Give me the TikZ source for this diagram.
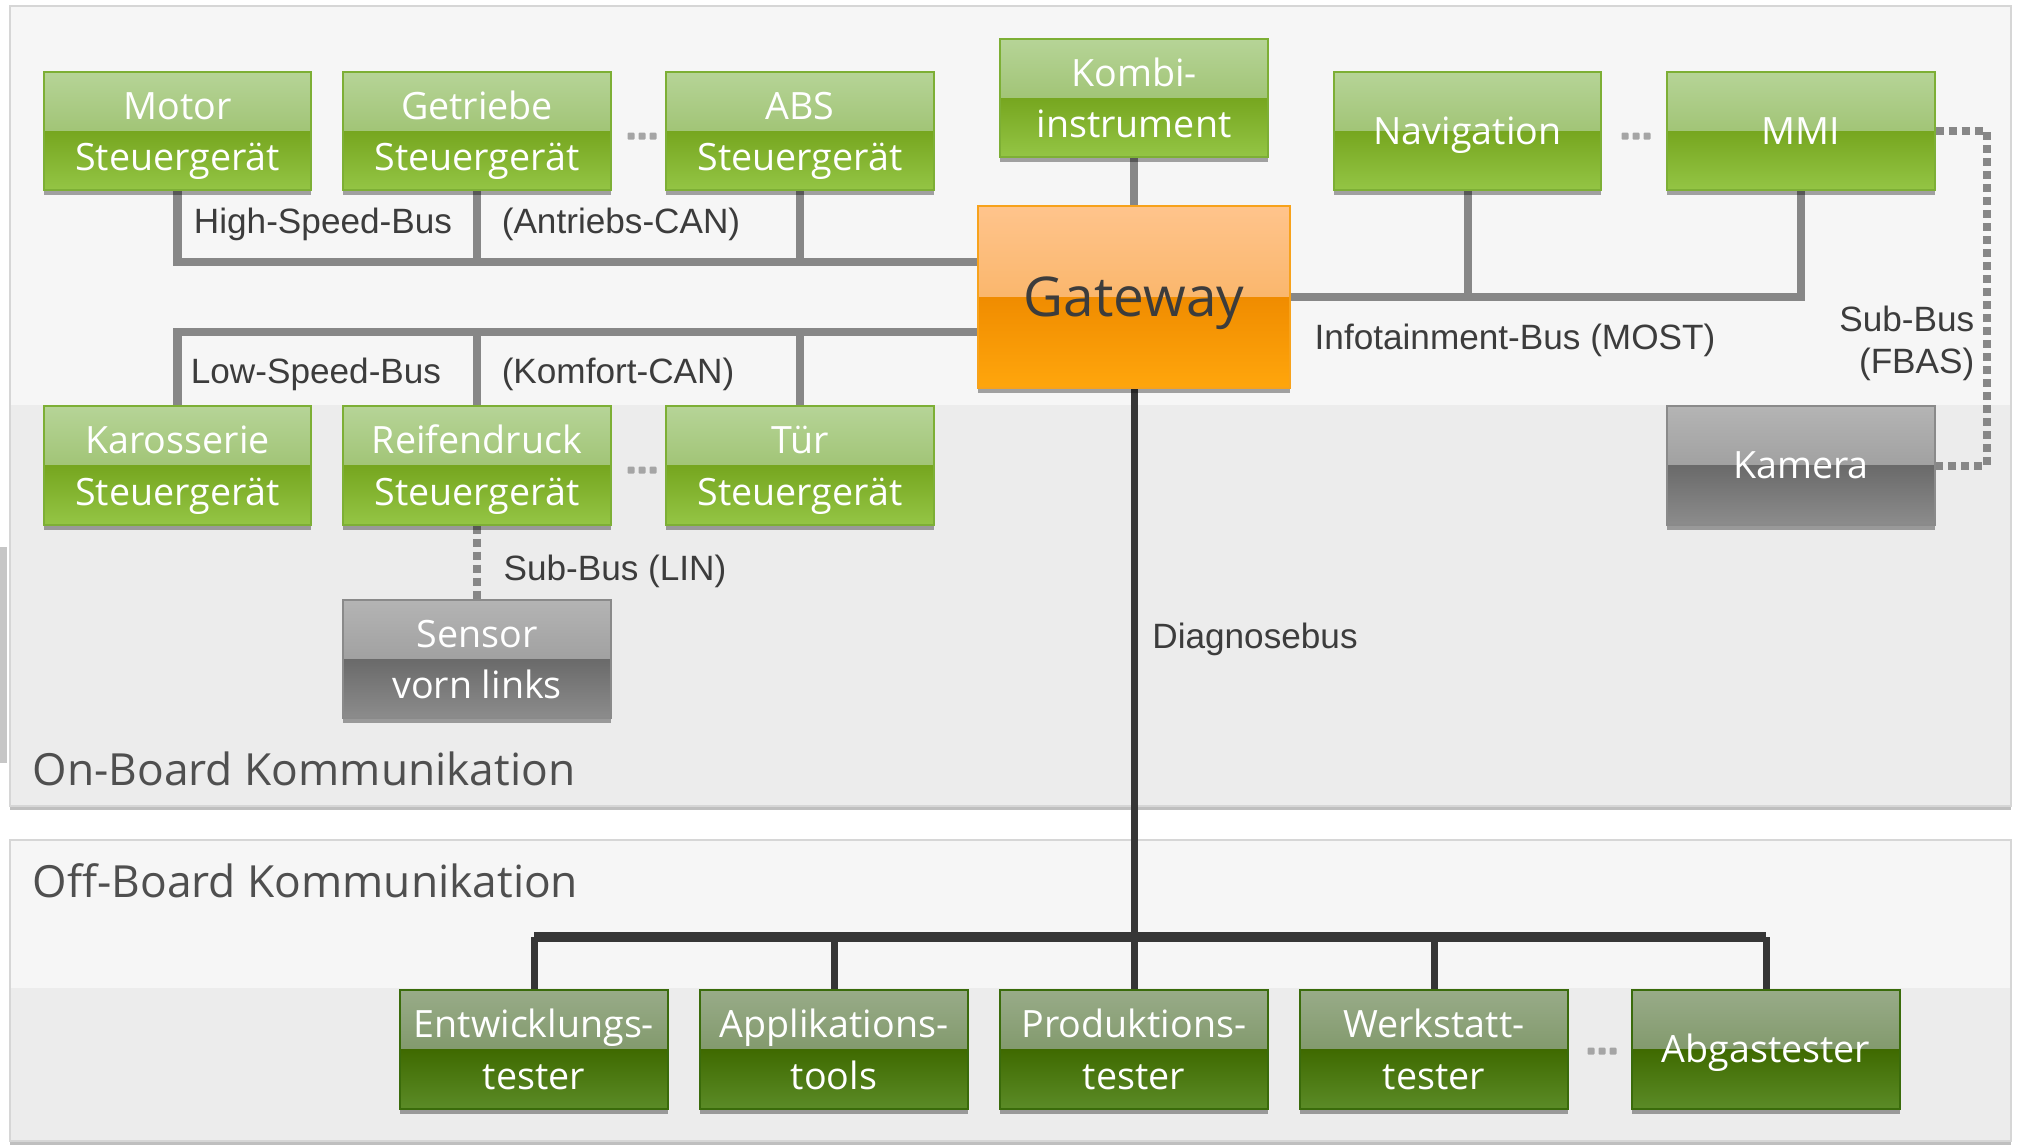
\documentclass[tikz,border=0pt]{standalone}
\usepackage{fontspec}
\setmainfont{Open Sans}
\newfontfamily\busfont{Liberation Sans}
\usetikzlibrary{shadows,calc}
\pgfdeclarelayer{panel}
\pgfdeclarelayer{wires}
\pgfsetlayers{panel,wires,main}

% box fills: top-light, top-dark, bottom-dark, bottom-light, border
\definecolor{gA}{HTML}{B6D497}\definecolor{gB}{HTML}{8DB556}
\definecolor{gC}{HTML}{76A61F}\definecolor{gD}{HTML}{94C545}\definecolor{gE}{HTML}{7DAF35}
\definecolor{yA}{HTML}{B4B4B4}\definecolor{yB}{HTML}{8E8E8E}
\definecolor{yC}{HTML}{6A6A6A}\definecolor{yD}{HTML}{8C8C8C}\definecolor{yE}{HTML}{8A8A8A}
\definecolor{dA}{HTML}{98AB88}\definecolor{dB}{HTML}{6D8952}
\definecolor{dC}{HTML}{3F6A00}\definecolor{dD}{HTML}{5B8B27}\definecolor{dE}{HTML}{3A6B0B}
\definecolor{oA}{HTML}{FFC48C}\definecolor{oB}{HTML}{F5A94D}
\definecolor{oC}{HTML}{F08C00}\definecolor{oD}{HTML}{FFA60C}\definecolor{oE}{HTML}{F7A21B}
\definecolor{busgray}{HTML}{878787}
\definecolor{diagline}{HTML}{363636}
\definecolor{labeltext}{HTML}{3C3C3C}
\definecolor{titletext}{HTML}{4F4F4F}
\definecolor{panelhi}{HTML}{F6F6F6}
\definecolor{panello}{HTML}{ECECEC}
\definecolor{panelrim}{HTML}{D6D6D6}

\tikzset{
  x=0.01cm, y=-0.01cm,
  glossy/.style n args={5}{
    draw=#5, line width=0.02cm,
    path picture={
      \shade[top color=#1, bottom color=#2]
        (path picture bounding box.north west) rectangle (path picture bounding box.east);
      \shade[top color=#3, bottom color=#4]
        (path picture bounding box.west) rectangle (path picture bounding box.south east);
    }},
  ecu/.style={rectangle, minimum width=2.67cm, minimum height=1.18cm, inner sep=0pt,
    align=center, text=white, font=\fontsize{10.7}{14.6}\selectfont,
    text height=22.6pt, text depth=0pt,
    drop shadow={shadow xshift=0pt, shadow yshift=-0.05cm, opacity=0.35, fill=black}},
  oneline/.style={text height=7.6pt, text depth=0pt},
  greenbox/.style={ecu, glossy={gA}{gB}{gC}{gD}{gE}},
  graybox/.style={ecu, glossy={yA}{yB}{yC}{yD}{yE}},
  testbox/.style={ecu, glossy={dA}{dB}{dC}{dD}{dE}},
  gatebox/.style={ecu, glossy={oA}{oB}{oC}{oD}{oE}, minimum width=3.12cm,
    minimum height=1.82cm, text=labeltext, font=\fontsize{15.6}{18}\selectfont,
    text height=11.1pt, text depth=0pt},
  bus/.style={draw=busgray, line width=0.08cm},
  subbus/.style={draw=busgray, line width=0.08cm, dash pattern=on 0.08cm off 0.05cm},
  diag/.style={draw=diagline, line width=0.07cm},
  diagh/.style={draw=diagline, line width=0.1cm},
  buslabel/.style={text=labeltext, font=\busfont\fontsize{10}{11.9}\selectfont, inner sep=0pt},
  title/.style={text=titletext, font=\fontsize{12.6}{15}\selectfont, inner sep=0pt, anchor=west},
  panel/.style={draw=panelrim, line width=0.02cm,
    drop shadow={shadow xshift=0pt, shadow yshift=-0.04cm, opacity=0.25, fill=black}},
  dot/.style={fill=busgray!75, rounded corners=0.01cm}
}

\begin{document}
\begin{tikzpicture}
\useasboundingbox (0,0) rectangle (2017,1144);

% two communication panels
\begin{pgfonlayer}{panel}
  \fill[white] (0,0) rectangle (2017,1144);
  \fill[gray!45] (0,547) rectangle (7,763);
  \path[panel, fill=panello] (10,6) rectangle (2011,806);
  \fill[panelhi] (11,7) rectangle (2010,405);
  \path[panel, fill=panello] (10,840) rectangle (2011,1141);
  \fill[panelhi] (11,841) rectangle (2010,988);
\end{pgfonlayer}

% control units
\node[greenbox] (motor)    at (177.5,131) {Motor\\Steuergerät};
\node[greenbox] (getriebe) at (477,131)   {Getriebe\\Steuergerät};
\node[greenbox] (abs)      at (800,131)   {ABS\\Steuergerät};
\node[greenbox] (kombi)    at (1134,98)   {Kombi-\\instrument};
\node[greenbox, oneline] (nav) at (1467.5,131){Navigation};
\node[greenbox, oneline] (mmi) at (1801,131)  {MMI};
\node[gatebox]  (gw)       at (1134,297)  {Gateway};
\node[greenbox] (karo)     at (177.5,465.5){Karosserie\\Steuergerät};
\node[greenbox] (reifen)   at (477,465.5) {Reifendruck\\Steuergerät};
\node[greenbox] (tuer)     at (800,465.5) {Tür\\Steuergerät};
\node[graybox, oneline] (kamera) at (1801,465.5){Kamera};
\node[graybox]  (sensor)   at (477,659)   {Sensor\\vorn links};

% external testers
\node[testbox] (entw)  at (534,1049.5)  {Entwicklungs-\\tester};
\node[testbox] (appl)  at (834,1049.5)  {Applikations-\\tools};
\node[testbox] (prod)  at (1134,1049.5) {Produktions-\\tester};
\node[testbox] (werk)  at (1434,1049.5) {Werkstatt-\\tester};
\node[testbox, oneline] (abgas) at (1766,1049.5) {Abgastester};

% bus heights
\coordinate (hsbus) at (978,262);
\coordinate (lsbus) at (978,332);
\coordinate (ibus)  at (1290,297);
\coordinate (dbus)  at (1134,937);

\begin{pgfonlayer}{wires}
  % high-speed CAN
  \draw[bus] (motor.south) |- (gw.west |- hsbus);
  \draw[bus] (getriebe.south) -- (getriebe.south |- hsbus);
  \draw[bus] (abs.south) -- (abs.south |- hsbus);
  % low-speed CAN
  \draw[bus] (karo.north) |- (gw.west |- lsbus);
  \draw[bus] (reifen.north) -- (reifen.north |- lsbus);
  \draw[bus] (tuer.north) -- (tuer.north |- lsbus);
  % instrument cluster
  \draw[bus] (kombi.south) -- (gw.north);
  % MOST
  \draw[bus] (gw.east |- ibus) -| (mmi.south);
  \draw[bus] (nav.south) -- (nav.south |- ibus);
  % sub-buses
  \draw[subbus] (mmi.east) -- ++(51,0) |- (kamera.east);
  \draw[subbus] (reifen.south) -- (sensor.north);
  % diagnostic bus
  \draw[diag] (gw.south) -- (prod.north);
  \draw[diagh] (entw.north |- dbus) -- (abgas.north |- dbus);
  \draw[diag] (entw.north) -- (entw.north |- dbus);
  \draw[diag] (appl.north) -- (appl.north |- dbus);
  \draw[diag] (werk.north) -- (werk.north |- dbus);
  \draw[diag] (abgas.north) -- (abgas.north |- dbus);
\end{pgfonlayer}

% ellipses between units
\foreach \cx/\cy in {642/136, 1636/136, 642/470, 1602/1051}{
  \foreach \dx in {-11,0,11}
    \fill[dot] (\cx+\dx-3.5,\cy-3.5) rectangle (\cx+\dx+3.5,\cy+3.5);
}

% bus labels
\node[buslabel] (lhs)  at (323,224)  {High-Speed-Bus};
\node[buslabel] (lan)  at (621,224)  {(Antriebs-CAN)};
\node[buslabel] (lls)  at (316,374)  {Low-Speed-Bus};
\node[buslabel] (lko)  at (618,374)  {(Komfort-CAN)};
\node[buslabel] (llin) at (615,571)  {Sub-Bus (LIN)};
\node[buslabel] (lmost) at (1515,340) {Infotainment-Bus (MOST)};
\node[buslabel, align=right, anchor=east] (lfbas) at (1975,343) {Sub-Bus\\(FBAS)};
\node[buslabel] (ldiag) at (1255,639) {Diagnosebus};

% panel titles
\node[title] (ton)  at (32,769) {On-Board Kommunikation};
\node[title] (toff) at (32,881) {Off-Board Kommunikation};
\end{tikzpicture}
\end{document}
